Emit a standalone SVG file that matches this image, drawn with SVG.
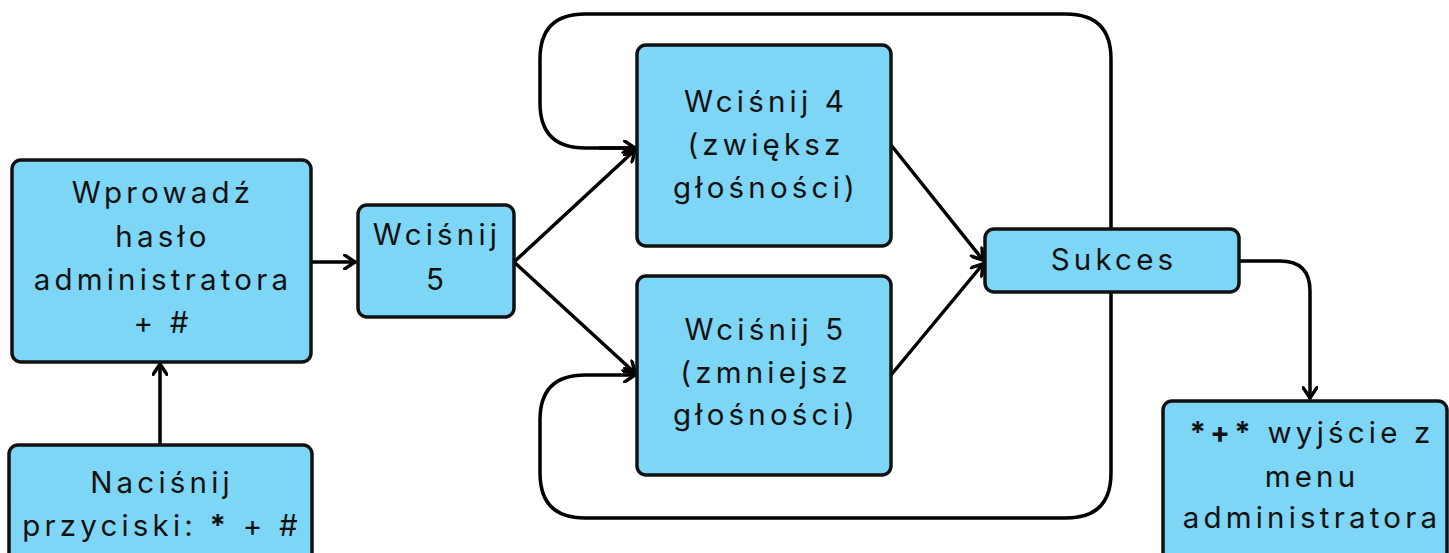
<svg xmlns="http://www.w3.org/2000/svg" width="1449" height="553" viewBox="0 0 1449 553">
<defs>
<style>
.box{fill:#7dd6f5;stroke:#111;stroke-width:3.5}
.t{font-family:Inter,"Noto Sans",sans-serif;font-size:29.5px;letter-spacing:4.2px;fill:#111;text-anchor:middle}
.b{font-weight:bold}
.c{fill:none;stroke:#000;stroke-width:3.5;stroke-linejoin:round;stroke-linecap:round}
</style>
<marker id="ah" markerUnits="userSpaceOnUse" markerWidth="16" markerHeight="16" refX="11" refY="7" orient="auto" viewBox="0 0 14 14">
<path d="M2,1 L11,7 L2,13" fill="none" stroke="#000" stroke-width="3" stroke-linecap="round" stroke-linejoin="round"/>
</marker>
</defs>
<rect width="1449" height="553" fill="#fff"/>
<g id="connectors">
<path class="c" d="M637,148 L585,148 Q540,148 540,103 L540,59 Q540,14 585,14 L1066,14 Q1111,14 1111,59 L1111,473 Q1111,518 1066,518 L585,518 Q540,518 540,473 L540,420 Q540,375 585,375 L635,375" marker-end="url(#ah)"/>
<path class="c" d="M600,148 L635,148" marker-end="url(#ah)"/>
<path class="c" d="M160,445 L160,364" marker-end="url(#ah)"/>
<path class="c" d="M311,262 L355,262" marker-end="url(#ah)"/>
<path class="c" d="M514,262 L635,150" marker-end="url(#ah)"/>
<path class="c" d="M514,262 L635,373" marker-end="url(#ah)"/>
<path class="c" d="M891,145 L983,260" marker-end="url(#ah)"/>
<path class="c" d="M891,375 L983,264" marker-end="url(#ah)"/>
<path class="c" d="M1239,261 L1280,261 Q1310,261 1310,291 L1310,398" marker-end="url(#ah)"/>
</g>
<g id="n1">
<rect class="box" x="12" y="160" width="299" height="202" rx="9"/>
<text class="t" x="163" y="203">Wprowadź</text>
<text class="t" x="163" y="247">hasło</text>
<text class="t" x="163" y="290">administratora</text>
<text class="t" x="163" y="333">+ #</text>
</g>
<g id="n2">
<rect class="box" x="9" y="445" width="303" height="120" rx="9"/>
<text class="t" x="162" y="493">Naciśnij</text>
<text class="t" x="162" y="536">przyciski: <tspan class="b">*</tspan> + #</text>
</g>
<g id="n3">
<rect class="box" x="358" y="205" width="156" height="112" rx="9"/>
<text class="t" x="437" y="245">Wciśnij</text>
<text class="t" x="437" y="290">5</text>
</g>
<g id="n4">
<rect class="box" x="637" y="45" width="254" height="201" rx="9"/>
<text class="t" x="766" y="112">Wciśnij 4</text>
<text class="t" x="766" y="155">(zwiększ</text>
<text class="t" x="766" y="198">głośności)</text>
</g>
<g id="n5">
<rect class="box" x="637" y="276" width="254" height="199" rx="9"/>
<text class="t" x="766" y="340">Wciśnij 5</text>
<text class="t" x="766" y="383">(zmniejsz</text>
<text class="t" x="766" y="425">głośności)</text>
</g>
<g id="n6">
<rect class="box" x="985" y="229" width="254" height="63" rx="9"/>
<text class="t" x="1114" y="270">Sukces</text>
</g>
<g id="n7">
<rect class="box" x="1163" y="401" width="284" height="165" rx="9"/>
<text class="t" x="1312" y="443"><tspan class="b">*+*</tspan> wyjście z</text>
<text class="t" x="1312" y="487">menu</text>
<text class="t" x="1312" y="528">administratora</text>
</g>
</svg>
